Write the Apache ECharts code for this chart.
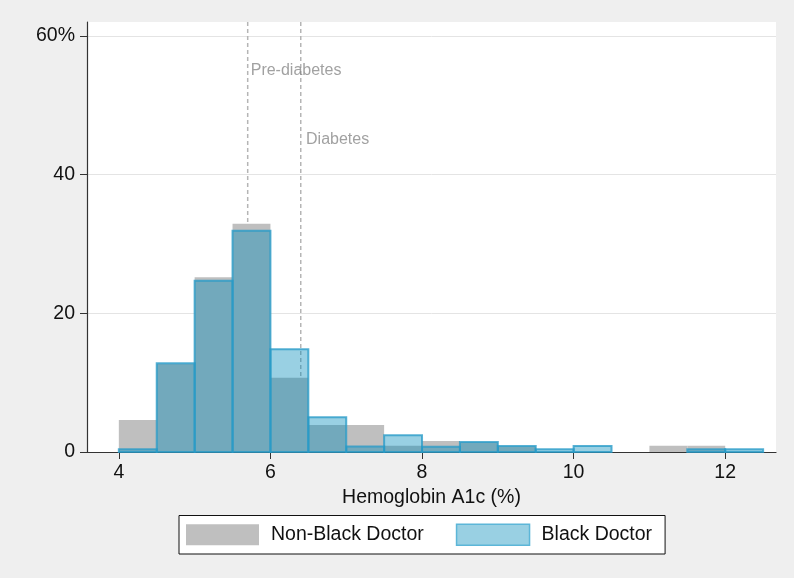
<!DOCTYPE html>
<html>
<head>
<meta charset="utf-8">
<script src="https://cdn.jsdelivr.net/npm/echarts@6/dist/echarts.min.js"></script>
<style>
  html, body { margin: 0; padding: 0; background: #efefef; }
  #chart { width: 794px; height: 578px; }
</style>
</head>
<body>
<div id="chart"></div>
<script>
// Histogram bins of HbA1c (%), width 0.5
const binStarts = [4, 4.5, 5, 5.5, 6, 6.5, 7, 7.5, 8, 8.5, 9, 9.5, 10, 10.5, 11, 11.5, 12];
const binWidth = 0.5;
// Percent of patients in each bin
const nonBlackPct = [4.6, 12.7, 25.2, 32.9, 10.7, 3.9, 3.9, 0.9, 1.6, 1.4, 0.8, 0, 0, 0, 0.9, 0.9, 0];
const blackPct    = [0.4, 12.8, 24.7, 31.9, 14.8, 5.0, 0.8, 2.4, 0.75, 1.45, 0.85, 0.4, 0.85, 0, 0, 0.4, 0.4];
// Reference thresholds
const thresholdX = [5.7, 6.4];
const annotations = [[5.74, 55, 'Pre-diabetes'], [6.47, 45, 'Diabetes']];
const yTicks = [0, 20, 40, 60];
const xTicks = [4, 6, 8, 10, 12];

const FONT = 'Liberation Sans, Arial, Helvetica, sans-serif';
const FS = 19.5;

function binData(values) {
  return binStarts.map((s, i) => [s, s + binWidth, values[i]]);
}

function histRender(fill, stroke, lineWidth) {
  return function (params, api) {
    if (api.value(2) <= 0) return null;
    const p0 = api.coord([api.value(0), api.value(2)]);
    const p1 = api.coord([api.value(1), 0]);
    return {
      type: 'rect',
      shape: { x: p0[0], y: p0[1], width: p1[0] - p0[0], height: p1[1] - p0[1] },
      style: { fill: fill, stroke: stroke, lineWidth: lineWidth }
    };
  };
}

// Vertical dashed threshold lines spanning the full plot height
function thresholdRender(params, api) {
  const top = api.coord([api.value(0), 62]);
  const bottom = api.coord([api.value(0), 0]);
  return {
    type: 'line',
    shape: { x1: top[0], y1: top[1], x2: bottom[0], y2: bottom[1] },
    style: { stroke: '#b5b5b5', lineWidth: 1.5, lineDash: [4, 3] }
  };
}

const chart = echarts.init(document.getElementById('chart'), null, { renderer: 'canvas' });

chart.setOption({
  backgroundColor: '#efefef',
  animation: false,
  grid: {
    left: 87, right: 18, top: 22, bottom: 126,
    show: true, backgroundColor: '#ffffff', borderWidth: 0
  },
  xAxis: {
    type: 'value',
    min: 3.58, max: 12.67,
    name: 'Hemoglobin A1c (%)',
    nameLocation: 'middle',
    nameGap: 28,
    nameTextStyle: { fontFamily: FONT, fontSize: FS, color: '#111' },
    axisLine: { show: true, onZero: false, lineStyle: { color: '#333', width: 1.2 } },
    axisTick: { show: true, length: 7, lineStyle: { color: '#333' }, customValues: xTicks },
    axisLabel: { fontFamily: FONT, fontSize: FS, color: '#111', margin: 11, customValues: xTicks },
    splitLine: { show: false }
  },
  yAxis: {
    type: 'value',
    min: 0, max: 62,
    axisLine: { show: true, lineStyle: { color: '#333', width: 1.2 } },
    axisTick: { show: true, length: 7, lineStyle: { color: '#333' }, customValues: yTicks },
    axisLabel: {
      fontFamily: FONT, fontSize: FS, color: '#111', margin: 12,
      customValues: yTicks,
      formatter: v => (v === 60 ? '60%' : String(v))
    },
    splitLine: { show: true, lineStyle: { color: '#e4e4e4', width: 1 } }
  },
  legend: {
    bottom: 24,
    left: 179,
    itemWidth: 73,
    itemHeight: 21,
    itemGap: 32,
    padding: [8, 13, 8, 7],
    borderColor: '#111',
    borderWidth: 1,
    backgroundColor: '#ffffff',
    borderRadius: 0,
    textStyle: { fontFamily: FONT, fontSize: FS, color: '#111', padding: [0, 0, 0, 7] },
    data: [
      { name: 'Non-Black Doctor', icon: 'rect', itemStyle: { color: '#bfbfbf', borderWidth: 0 } },
      { name: 'Black Doctor', icon: 'rect', itemStyle: { color: '#99d0e3', borderColor: '#5cb6d8', borderWidth: 1.5 } }
    ]
  },
  series: [
    {
      name: 'thresholds',
      type: 'custom',
      z: 1,
      silent: true,
      renderItem: thresholdRender,
      encode: { x: 0 },
      data: thresholdX.map(x => [x])
    },
    {
      name: 'Non-Black Doctor',
      type: 'custom',
      z: 2,
      renderItem: histRender('#bfbfbf', null, 0),
      encode: { x: [0, 1], y: 2 },
      data: binData(nonBlackPct)
    },
    {
      name: 'Black Doctor',
      type: 'custom',
      z: 3,
      renderItem: histRender('rgba(0,137,186,0.4)', 'rgba(40,155,200,0.78)', 2),
      encode: { x: [0, 1], y: 2 },
      data: binData(blackPct)
    },
    {
      name: 'labels',
      type: 'scatter',
      z: 4,
      silent: true,
      symbolSize: 0,
      data: annotations.map(a => ({ value: [a[0], a[1]], name: a[2] })),
      label: {
        show: true,
        position: 'right',
        distance: 0,
        formatter: p => p.name,
        fontFamily: FONT,
        fontSize: 16,
        color: '#8a8a8a'
      }
    }
  ]
});
</script>
</body>
</html>
